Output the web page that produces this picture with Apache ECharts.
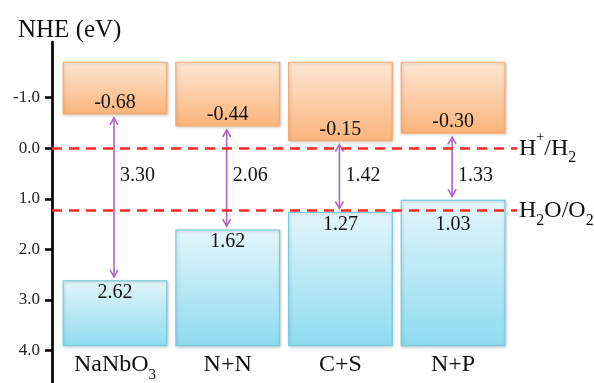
<!DOCTYPE html>
<html>
<head>
<meta charset="utf-8">
<script src="https://cdn.jsdelivr.net/npm/echarts@6/dist/echarts.min.js"></script>
<style>
  html, body { margin: 0; padding: 0; background: #fff; }
  #chart { width: 594px; height: 383px; }
</style>
</head>
<body>
<div id="chart"></div>
<script>
// Band edges (eV vs NHE) for each sample
const categories = ['NaNbO{sub|3}', 'N+N', 'C+S', 'N+P'];
const conductionBand = [-0.68, -0.44, -0.15, -0.30];
const valenceBand = [2.62, 1.62, 1.27, 1.03];

// Axis ticks and redox reference levels
const yTicks = [-1, 0, 1, 2, 3, 4];
const redoxLevels = [0, 1.23];
const redoxNames = ['H{sup|+}/H{sub|2}', 'H{sub|2}O/O{sub|2}'];

// Drawing extents of the band boxes (in eV) and where the gap labels sit
const BAND_TOP = -1.7;
const BAND_BOTTOM = 3.9;
const GAP_LABEL_LEVEL = 0.55;
const HALF_WIDTH = 0.46;

const SERIF = '"Liberation Serif", "Times New Roman", serif';
const INK = '#111';
const ARROW = '#b262c9';

const chart = echarts.init(document.getElementById('chart'));

const rows = categories.map((c, i) => [i, conductionBand[i], valenceBand[i]]);

// Rich-text styles giving sub/superscripts around a base run
function richStyles(base, small) {
  return {
    base: { fontSize: base, fontFamily: SERIF, color: INK, fill: INK, lineHeight: Math.round(base * 1.5) },
    sub: { fontSize: small, fontFamily: SERIF, color: INK, fill: INK, lineHeight: small, verticalAlign: 'bottom' },
    sup: { fontSize: small - 2, fontFamily: SERIF, color: INK, fill: INK, lineHeight: small, verticalAlign: 'top' }
  };
}

// Wrap plain segments with the base style so sub/sup tokens align to it
function wrapBase(s) {
  return s.split(/(\{(?:sub|sup)\|[^}]*\})/).filter(Boolean)
    .map(t => t.startsWith('{') ? t : '{base|' + t + '}').join('');
}

function grad(c0, c1) {
  return new echarts.graphic.LinearGradient(0, 0, 0, 1, [
    { offset: 0, color: c0 },
    { offset: 1, color: c1 }
  ]);
}

function renderBand(params, api) {
  const i = api.value(0);
  const cb = api.value(1);
  const vb = api.value(2);

  const cbTL = api.coord([i - HALF_WIDTH, BAND_TOP]);
  const cbBR = api.coord([i + HALF_WIDTH, cb]);
  const vbTL = api.coord([i - HALF_WIDTH, vb]);
  const vbBR = api.coord([i + HALF_WIDTH, BAND_BOTTOM]);
  const cx = api.coord([i, 0])[0];
  const ax = cx - 1;
  const y1 = cbBR[1] + 4;
  const y2 = vbTL[1] - 4;
  const gapY = api.coord([i, GAP_LABEL_LEVEL])[1];

  // keep the valence-band value clear of the O2 reference line
  const o2Y = api.coord([i, redoxLevels[1]])[1];
  let vbLabelY = vbTL[1] + 12;
  if (Math.abs(vbLabelY - o2Y) < 12) vbLabelY = o2Y + 14;

  const shadow = { shadowBlur: 3, shadowOffsetX: 1, shadowOffsetY: 1, shadowColor: 'rgba(0,0,0,0.18)' };
  const numStyle = { fill: INK, fontSize: 20, fontFamily: SERIF, verticalAlign: 'middle' };

  return {
    type: 'group',
    children: [
      {
        type: 'rect',
        shape: { x: cbTL[0], y: cbTL[1], width: cbBR[0] - cbTL[0], height: cbBR[1] - cbTL[1] },
        style: Object.assign({ fill: grad('#fde7d5', '#fbb47a'), stroke: '#f7ab6e', lineWidth: 1.2 }, shadow)
      },
      {
        type: 'rect',
        shape: { x: vbTL[0], y: vbTL[1], width: vbBR[0] - vbTL[0], height: vbBR[1] - vbTL[1] },
        style: Object.assign({ fill: grad('#e4f5fb', '#8edbf0'), stroke: '#76cddc', lineWidth: 1.2 }, shadow)
      },
      {
        type: 'text',
        x: cx, y: cbBR[1] - 11,
        style: Object.assign({ text: cb.toFixed(2), align: 'center' }, numStyle)
      },
      {
        type: 'text',
        x: cx, y: vbLabelY,
        style: Object.assign({ text: vb.toFixed(2), align: 'center' }, numStyle)
      },
      {
        type: 'line',
        shape: { x1: ax, y1: y1, x2: ax, y2: y2 },
        style: { stroke: ARROW, lineWidth: 1.6 }
      },
      {
        type: 'polyline',
        shape: { points: [[ax - 4, y1 + 7], [ax, y1], [ax + 4, y1 + 7]] },
        style: { stroke: ARROW, lineWidth: 1.6, fill: null }
      },
      {
        type: 'polyline',
        shape: { points: [[ax - 4, y2 - 7], [ax, y2], [ax + 4, y2 - 7]] },
        style: { stroke: ARROW, lineWidth: 1.6, fill: null }
      },
      {
        type: 'text',
        x: ax + 6, y: gapY,
        style: Object.assign({ text: (vb - cb).toFixed(2), align: 'left' }, numStyle)
      },
      {
        type: 'text',
        x: cx, y: vbBR[1] + 19,
        style: {
          text: wrapBase(categories[i]),
          align: 'center', verticalAlign: 'middle',
          rich: richStyles(24, 15)
        }
      }
    ]
  };
}

chart.setOption({
  animation: false,
  title: {
    text: 'NHE (eV)',
    left: 13, top: 13,
    textStyle: { fontSize: 25, fontWeight: 'normal', fontFamily: SERIF, color: INK }
  },
  grid: { left: 52, right: 77, top: 42, bottom: 0 },
  xAxis: { type: 'value', min: -0.559, max: 3.567, show: false },
  yAxis: {
    type: 'value',
    inverse: true,
    min: -2.1,
    max: 4.64,
    axisLine: { show: true, onZero: false, lineStyle: { color: '#000', width: 2.7 } },
    axisTick: { show: true, customValues: yTicks, length: 7, lineStyle: { color: '#000', width: 2.5 } },
    axisLabel: {
      customValues: yTicks,
      formatter: v => v.toFixed(1),
      fontSize: 17, fontFamily: SERIF, color: '#222', margin: 12
    },
    splitLine: { show: false }
  },
  series: [
    {
      type: 'custom',
      renderItem: renderBand,
      data: rows,
      clip: false,
      silent: true
    },
    {
      type: 'line',
      data: [],
      silent: true,
      markLine: {
        silent: true,
        symbol: ['none', 'none'],
        lineStyle: { color: '#ff2626', width: 2.5, type: [10, 7] },
        label: {
          position: 'end',
          distance: 2,
          rich: richStyles(24, 16)
        },
        data: redoxLevels.map((v, k) => ({
          yAxis: v,
          label: { formatter: wrapBase(redoxNames[k]) }
        }))
      }
    }
  ]
});
</script>
</body>
</html>
